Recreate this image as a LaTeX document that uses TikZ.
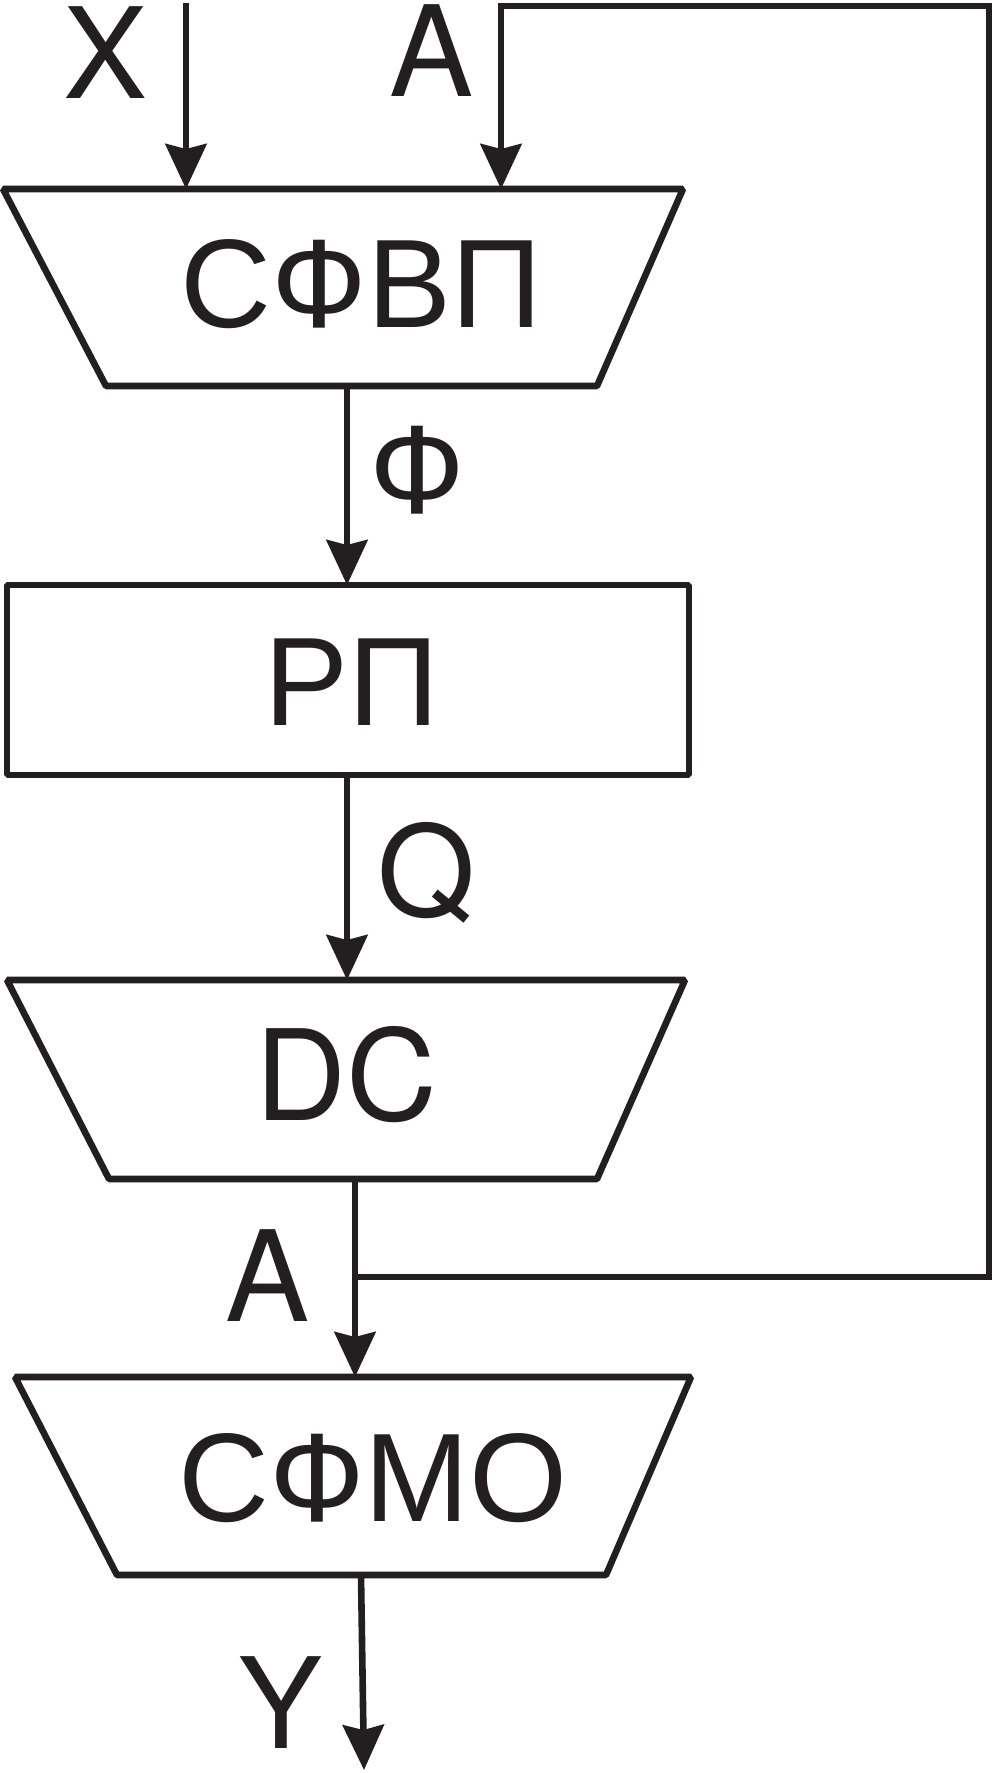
\documentclass[tikz,border=0pt]{standalone}
\usepackage{fontspec}
\setmainfont{Liberation Sans}
\newfontfamily\heros{TeX Gyre Heros}
\usetikzlibrary{arrows.meta}
\definecolor{ink}{RGB}{35,31,32}
\begin{document}
\begin{tikzpicture}[x=1pt,y=-1pt,
  ln/.style={line width=6.6pt,draw=ink},
  shp/.style={ln,line join=bevel},
  arr/.style={ln,-{Stealth[length=45pt,width=41pt,inset=5pt]}},
  lbl/.style={inner sep=0pt,font=\fontsize{126}{130}\selectfont,text height=90pt,text depth=0pt,anchor=center,text=ink},
  lat/.style={lbl,font=\fontsize{126}{130}\selectfont\heros}]
\useasboundingbox (0,0) rectangle (995,1773);
% block outlines
\draw[shp] (3,189) coordinate (t1tl) -- (683,189) coordinate (t1tr) -- (597,386) coordinate (t1br) -- (106,386) coordinate (t1bl) -- cycle;
\draw[shp] (7,585) coordinate (rtl) rectangle (689,775) coordinate (rbr);
\draw[shp] (7,980) coordinate (t2tl) -- (685,980) coordinate (t2tr) -- (597,1179) coordinate (t2br) -- (109,1179) coordinate (t2bl) -- cycle;
\draw[shp] (15,1377) coordinate (t3tl) -- (691,1377) coordinate (t3tr) -- (606,1575) coordinate (t3br) -- (117,1575) coordinate (t3bl) -- cycle;
% block texts
\node[lbl] (sfvp) at (361,282) {СФВП};
\node[lbl] (rp) at (352,680) {РП};
\node[lat] (dc) at (346,1075) {DC};
\node[lbl] (sfmo) at (373,1476) {СФМО};
% signal labels
\node[lat] (lx) at (106,53) {X};
\node[lat] (la) at (432,51) {A};
\node[lbl] (lf) at (417,468) {Ф};
\node[lat] (lq) at (427,871) {Q};
\node[lat] (la2) at (268,1276) {A};
\node[lat] (ly) at (281,1703) {Y};
% connector points
\coordinate (xs) at (186,3);
\coordinate (xe) at (186,189);
\coordinate (ae) at (501,189);
\coordinate (ac) at (501,6);
\coordinate (rc) at (989,6);
\coordinate (rb) at (989,1277);
\coordinate (fs) at (347,386);
\coordinate (fe) at (347,585);
\coordinate (qs) at (347,775);
\coordinate (qe) at (347,980);
\coordinate (ds) at (355,1179);
\coordinate (dj) at (355,1277);
\coordinate (de) at (355,1377);
\coordinate (ys) at (361,1575);
\coordinate (ye) at (364,1770);
% connectors
\draw[arr] (xs) -- (xe);
\draw[arr,line join=miter] (dj) -- (rb) -- (rc) -- (ac) -- (ae);
\draw[arr] (fs) -- (fe);
\draw[arr] (qs) -- (qe);
\draw[arr] (ds) -- (de);
\draw[arr] (ys) -- (ye);
\end{tikzpicture}
\end{document}
